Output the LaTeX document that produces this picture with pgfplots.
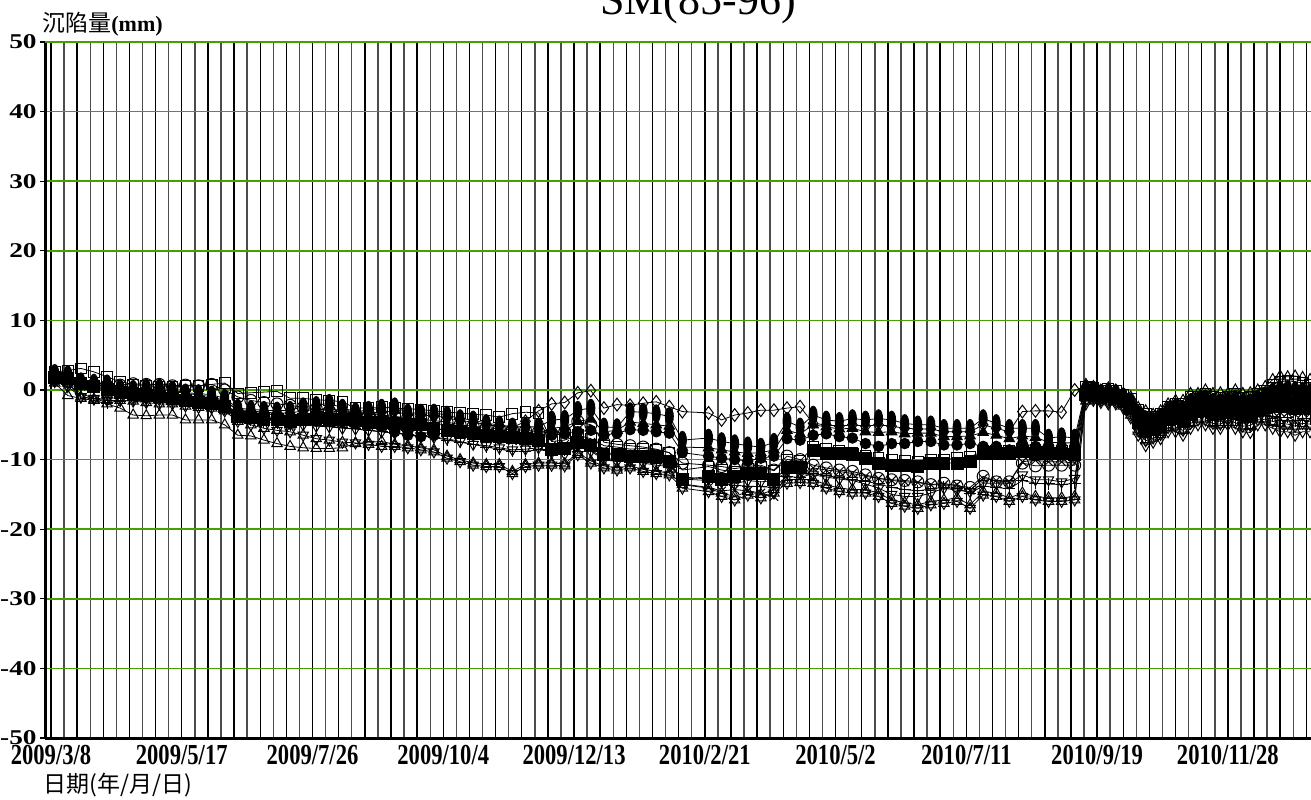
\documentclass[border=0pt]{standalone}
\usepackage{fontspec}
\setmainfont{Liberation Serif}
\newfontfamily\cjk{Noto Sans CJK TC}
\newfontfamily\ytf{Liberation Serif}[FakeStretch=1.3]
\newfontfamily\xtf{Liberation Serif}[FakeStretch=0.78]
\usepackage{pgfplots}
\usepackage{pgfplotstable}
\pgfplotsset{compat=1.18}
\usetikzlibrary{calc}
\definecolor{gridgreen}{RGB}{70,160,0}
\definecolor{topgreen}{RGB}{30,90,0}

\pgfplotstableread{
d ea fc fs os oc ut dt di cr pl hx ft
2 2.4 1.5 1.8 2.6 1.5 1.0 1.2 2.0 1.6 1.3 1.8 2.0
9 2.2 1.5 1.6 2.8 1.2 -0.8 0.5 1.8 1.3 0.8 1.0 1.9
16 1.2 0.8 1.0 3.1 1.0 -1.2 -1.0 1.0 0.5 -0.5 -1.0 1.4
23 1.0 0.5 0.5 2.6 0.8 -1.5 -1.2 0.7 0.2 -1.2 -1.3 1.2
30 0.9 0.3 0.0 1.9 0.6 -2.0 -1.3 0.5 -0.2 -1.8 -1.5 0.8
37 0.2 -0.3 -0.3 1.2 0.7 -2.6 -1.0 0.0 -0.5 -1.6 -1.5 0.4
44 0.1 -0.5 -0.6 0.8 0.9 -3.6 -1.2 -0.2 -0.8 -1.5 -1.6 0.2
51 0.3 -0.5 -0.8 0.6 0.8 -3.7 -1.3 -0.2 -1.0 -1.6 -1.8 0.1
58 0.3 -0.6 -1.0 0.5 0.8 -3.6 -1.4 -0.3 -1.1 -1.7 -2.0 0.0
65 0.0 -0.8 -1.2 0.4 0.6 -3.6 -1.5 -0.5 -1.3 -1.8 -2.0 -0.2
72 -0.4 -1.0 -1.5 0.6 0.7 -4.3 -1.6 -0.8 -1.4 -2.0 -2.3 -0.5
79 -0.5 -1.2 -1.8 0.6 0.6 -4.3 -1.8 -1.0 -1.6 -2.2 -2.5 -0.7
86 -0.7 -1.5 -2.0 0.8 0.8 -4.3 -2.0 -1.2 -1.8 -2.4 -2.6 -1.0
93 -1.2 -2.0 -2.4 1.0 0.0 -5.0 -2.5 -1.6 -2.2 -2.8 -3.0 -1.5
100 -2.6 -3.5 -3.8 -0.5 -1.0 -6.5 -3.8 -2.8 -3.2 -4.0 -4.5 -3.0
107 -2.8 -3.8 -4.0 -0.4 -1.5 -6.6 -4.0 -3.0 -3.5 -4.3 -5.0 -3.2
114 -2.9 -4.0 -4.2 -0.3 -1.8 -7.2 -4.2 -3.2 -3.8 -4.6 -5.5 -3.4
121 -3.0 -4.2 -4.3 -0.2 -2.0 -7.7 -4.5 -3.3 -4.0 -4.8 -5.8 -3.6
128 -2.9 -4.3 -4.5 -1.2 -2.2 -8.1 -4.8 -3.3 -4.0 -5.0 -6.0 -3.6
135 -2.4 -4.4 -4.2 -1.2 -2.5 -8.3 -5.0 -3.0 -3.8 -5.0 -6.5 -3.4
142 -2.2 -4.5 -4.0 -1.4 -2.7 -8.4 -5.2 -2.8 -3.8 -5.0 -7.0 -3.3
149 -1.9 -4.5 -4.2 -1.5 -3.0 -8.4 -5.3 -2.7 -3.9 -5.2 -7.2 -3.2
156 -2.6 -4.6 -4.3 -1.7 -3.2 -8.3 -5.5 -3.0 -4.0 -5.4 -7.5 -3.6
163 -3.1 -4.8 -4.4 -2.6 -3.4 -7.7 -5.6 -3.4 -4.2 -5.6 -7.6 -4.0
170 -2.9 -5.0 -4.6 -2.6 -3.5 -7.5 -5.8 -3.3 -4.3 -5.8 -7.8 -3.9
177 -2.6 -5.2 -4.6 -2.5 -3.6 -7.4 -6.0 -3.2 -4.5 -6.0 -8.1 -3.8
184 -2.4 -6.0 -4.8 -2.6 -3.8 -7.8 -6.2 -3.0 -4.8 -6.2 -8.1 -4.2
191 -3.3 -6.5 -4.9 -2.7 -4.0 -8.0 -6.4 -3.6 -5.0 -6.4 -8.3 -4.8
198 -3.3 -6.7 -5.0 -2.8 -4.2 -8.3 -6.6 -3.6 -5.2 -6.6 -8.6 -5.0
205 -3.3 -6.5 -5.5 -3.0 -4.4 -8.6 -6.8 -3.7 -5.5 -6.8 -8.9 -5.0
212 -3.6 -6.0 -5.8 -3.2 -4.6 -9.5 -7.0 -4.0 -5.8 -7.2 -9.8 -5.0
219 -4.1 -6.2 -6.0 -3.3 -5.0 -10.0 -7.4 -4.4 -6.0 -7.5 -10.3 -5.2
226 -4.3 -6.5 -6.2 -3.5 -5.2 -10.5 -7.8 -4.6 -6.4 -7.8 -10.8 -5.5
233 -4.8 -6.8 -6.5 -3.6 -5.4 -10.7 -8.0 -5.0 -6.8 -8.2 -11.0 -5.8
240 -5.0 -7.0 -6.7 -3.9 -5.6 -10.7 -8.3 -5.2 -7.0 -8.5 -11.0 -6.0
247 -5.3 -7.0 -6.8 -3.4 -5.7 -11.7 -8.6 -5.4 -7.3 -8.8 -12.0 -6.2
254 -5.3 -7.2 -6.9 -3.2 -5.8 -10.7 -8.5 -4.5 -7.6 -8.8 -11.0 -6.3
261 -5.3 -7.0 -7.2 -3.3 -6.0 -10.5 -8.3 -3.0 -7.8 -8.6 -10.8 -6.2
268 -4.3 -6.5 -8.6 -7.4 -6.2 -10.5 -9.0 -2.0 -8.0 -8.8 -10.8 -5.5
275 -4.2 -6.3 -8.4 -7.2 -6.0 -10.6 -9.2 -1.8 -7.8 -8.6 -10.9 -5.3
282 -2.9 -6.0 -7.5 -6.5 -4.5 -9.0 -8.0 -0.4 -7.0 -8.2 -9.3 -4.5
289 -2.6 -5.8 -8.0 -7.0 -5.0 -10.2 -8.8 -0.1 -7.5 -8.6 -10.5 -4.2
296 -5.3 -6.5 -9.3 -8.0 -7.5 -10.9 -10.0 -2.6 -9.0 -9.8 -11.2 -6.0
303 -5.4 -6.2 -9.3 -8.2 -7.8 -11.2 -10.3 -2.1 -9.2 -10.0 -11.5 -5.8
310 -3.1 -5.7 -9.5 -8.5 -8.0 -10.9 -10.2 -2.2 -9.3 -10.0 -11.2 -4.6
317 -3.2 -5.8 -9.6 -8.4 -8.2 -11.4 -10.5 -1.9 -9.5 -10.2 -11.7 -4.8
324 -3.4 -6.0 -9.6 -8.6 -8.5 -11.7 -10.8 -1.7 -9.8 -10.5 -12.0 -5.0
331 -3.8 -6.2 -10.3 -9.0 -9.0 -11.9 -11.0 -2.4 -10.2 -10.8 -12.2 -5.2
338 -7.2 -9.0 -12.9 -11.5 -10.5 -13.6 -12.5 -3.1 -13.5 -12.8 -14.1 -8.2
352 -6.9 -9.5 -12.4 -11.0 -10.8 -14.1 -12.8 -3.3 -14.0 -13.0 -14.6 -8.3
359 -7.4 -9.8 -12.9 -11.5 -11.0 -14.8 -13.2 -4.3 -14.5 -13.4 -15.3 -8.6
366 -7.7 -10.0 -12.4 -11.8 -11.3 -15.3 -13.5 -3.6 -14.3 -13.7 -15.8 -8.9
373 -8.0 -10.2 -12.0 -11.3 -11.0 -14.6 -13.0 -3.3 -14.5 -13.8 -15.1 -9.1
380 -8.2 -9.8 -12.0 -11.0 -10.8 -15.0 -13.2 -2.9 -14.8 -13.9 -15.5 -9.0
387 -7.5 -9.5 -12.9 -11.6 -11.5 -14.3 -13.0 -2.9 -15.3 -14.0 -14.8 -8.6
394 -4.5 -7.0 -11.2 -10.0 -9.5 -12.9 -11.8 -2.6 -12.0 -12.4 -13.4 -5.8
401 -5.3 -7.2 -11.2 -10.2 -10.0 -12.8 -12.0 -2.4 -12.0 -12.6 -13.3 -6.3
408 -3.6 -6.5 -8.7 -8.2 -10.8 -12.9 -12.2 -4.8 -11.2 -12.0 -13.4 -5.0
415 -4.3 -6.3 -9.1 -8.5 -11.2 -13.6 -12.5 -5.0 -11.5 -12.3 -14.1 -5.3
422 -4.5 -6.7 -9.1 -8.8 -11.5 -14.1 -12.8 -5.2 -11.7 -12.6 -14.6 -5.6
429 -4.1 -6.9 -9.3 -9.0 -11.7 -14.3 -13.0 -5.0 -12.0 -12.9 -14.8 -5.5
436 -4.3 -7.7 -9.8 -9.5 -12.2 -14.3 -13.5 -5.2 -12.4 -13.1 -14.8 -6.0
443 -4.1 -8.1 -10.5 -9.8 -12.7 -14.8 -14.1 -5.0 -12.7 -13.5 -15.3 -6.1
450 -4.3 -7.7 -10.8 -10.0 -12.9 -15.8 -15.0 -5.2 -13.0 -14.0 -16.3 -6.0
457 -4.8 -7.7 -10.8 -10.2 -13.0 -16.2 -15.3 -5.5 -13.2 -14.3 -16.7 -6.3
464 -5.0 -7.4 -11.0 -10.3 -13.2 -16.5 -15.3 -5.6 -13.3 -14.5 -17.0 -6.2
471 -5.0 -7.4 -10.5 -10.0 -13.6 -16.0 -14.8 -5.6 -13.6 -14.2 -16.5 -6.2
478 -5.5 -7.9 -10.5 -10.0 -13.4 -15.8 -14.1 -6.0 -13.6 -14.0 -16.3 -6.7
485 -5.5 -7.9 -10.5 -9.8 -13.8 -15.5 -14.4 -6.0 -13.6 -14.2 -16.0 -6.7
492 -5.5 -7.7 -10.3 -9.6 -14.0 -16.5 -14.6 -6.0 -14.4 -14.8 -17.0 -6.6
499 -4.1 -8.1 -9.1 -8.8 -12.4 -14.6 -13.4 -5.0 -12.7 -13.8 -15.1 -6.1
506 -4.8 -8.1 -9.1 -8.7 -13.2 -14.8 -13.4 -5.5 -13.0 -14.0 -15.3 -6.5
513 -5.5 -8.6 -9.1 -8.8 -13.2 -15.5 -13.4 -6.0 -13.2 -14.2 -16.0 -7.0
520 -5.5 -7.7 -8.9 -8.5 -10.5 -14.8 -12.2 -3.1 -10.3 -13.0 -15.3 -6.6
527 -5.5 -8.1 -9.1 -8.6 -10.9 -15.3 -12.9 -3.0 -10.1 -13.4 -15.8 -6.8
534 -6.9 -8.1 -9.1 -8.8 -10.8 -15.5 -12.9 -3.0 -10.3 -13.5 -16.0 -7.5
541 -6.7 -8.6 -9.1 -8.7 -10.8 -15.5 -13.2 -3.2 -10.3 -13.6 -16.0 -7.6
548 -6.9 -8.4 -9.3 -8.9 -10.8 -15.3 -12.7 0.0 -10.5 -13.4 -15.8 -7.6
554 0.1 -0.5 -0.7 0.5 -0.6 0.8 -2.0 0.2 -1.0 -1.3 -1.6 -0.2
558 0.0 -0.4 -0.6 0.3 -0.5 0.5 -1.5 0.1 -0.8 -1.0 -1.2 -0.2
562 -0.5 -0.8 -1.0 -0.2 -0.9 0.0 -1.8 -0.4 -1.2 -1.4 -1.5 -0.6
566 -0.3 -0.7 -1.0 0.1 -0.9 0.3 -2.0 -0.2 -1.2 -1.4 -1.7 -0.5
570 -0.5 -0.9 -1.1 -0.2 -1.0 0.0 -2.0 -0.4 -1.3 -1.5 -1.7 -0.7
574 -1.0 -1.4 -1.7 -0.7 -1.6 -0.5 -2.6 -0.9 -1.9 -2.1 -2.3 -1.2
578 -1.8 -2.4 -2.7 -1.3 -2.5 -1.0 -4.0 -1.6 -3.0 -3.3 -3.6 -2.1
582 -3.5 -4.3 -4.7 -2.9 -4.5 -2.5 -6.5 -3.3 -5.1 -5.5 -5.9 -3.9
586 -4.3 -5.3 -5.8 -3.5 -5.5 -3.0 -8.0 -4.0 -6.3 -6.8 -7.3 -4.8
590 -4.5 -5.3 -5.7 -3.9 -5.5 -3.5 -7.5 -4.3 -6.1 -6.5 -6.9 -4.9
594 -4.0 -4.8 -5.2 -3.4 -5.0 -3.0 -7.0 -3.8 -5.6 -6.0 -6.4 -4.4
598 -3.0 -3.8 -4.2 -2.4 -4.0 -2.0 -6.0 -2.8 -4.6 -5.0 -5.4 -3.4
602 -2.6 -3.5 -4.0 -2.0 -3.8 -1.5 -6.0 -2.4 -4.4 -4.9 -5.3 -3.1
606 -2.8 -3.8 -4.3 -2.0 -4.0 -1.5 -6.5 -2.5 -4.8 -5.3 -5.8 -3.3
610 -1.8 -2.8 -3.3 -1.0 -3.0 -0.5 -5.5 -1.5 -3.8 -4.3 -4.8 -2.3
614 -1.6 -2.5 -3.0 -1.0 -2.8 -0.5 -5.0 -1.4 -3.4 -3.9 -4.3 -2.1
618 -1.3 -2.3 -2.8 -0.5 -2.5 0.0 -5.0 -1.0 -3.3 -3.8 -4.3 -1.8
622 -1.8 -2.8 -3.3 -1.0 -3.0 -0.5 -5.5 -1.5 -3.8 -4.3 -4.8 -2.3
626 -1.9 -2.9 -3.2 -1.1 -3.1 -0.4 -5.5 -1.4 -3.9 -4.2 -4.9 -2.2
630 -1.6 -2.5 -3.0 -1.0 -2.8 -0.5 -5.0 -1.4 -3.4 -3.9 -4.3 -2.1
634 -1.4 -2.5 -3.0 -0.6 -2.8 0.0 -5.5 -1.1 -3.6 -4.1 -4.7 -1.9
638 -1.9 -3.0 -3.5 -1.1 -3.3 -0.5 -6.0 -1.6 -4.1 -4.6 -5.2 -2.4
642 -1.8 -2.9 -3.6 -1.0 -3.2 -0.4 -6.1 -1.7 -4.0 -4.7 -5.1 -2.5
646 -1.3 -2.3 -2.8 -0.5 -2.5 0.0 -5.0 -1.0 -3.3 -3.8 -4.3 -1.8
650 -0.9 -2.0 -2.5 -0.1 -2.3 0.5 -5.0 -0.6 -3.1 -3.6 -4.2 -1.4
654 -0.3 -1.7 -2.4 0.8 -2.0 1.5 -5.5 0.1 -3.1 -3.8 -4.5 -1.0
658 0.0 -1.6 -2.4 1.2 -2.0 2.0 -6.0 0.4 -3.2 -4.0 -4.8 -0.8
662 0.1 -1.5 -2.3 1.3 -2.1 1.9 -6.0 0.3 -3.3 -3.9 -4.9 -0.9
666 -0.1 -1.8 -2.7 1.2 -2.3 2.0 -6.5 0.3 -3.5 -4.4 -5.2 -1.0
670 -0.2 -1.7 -2.5 1.0 -2.1 1.8 -6.0 0.2 -3.3 -4.1 -4.8 -0.9
674 -0.4 -1.9 -2.6 0.8 -2.3 1.5 -6.0 0.0 -3.4 -4.1 -4.9 -1.1
}\data

\begin{document}
\begin{tikzpicture}
\begin{axis}[
  scale only axis, width=633pt, height=348pt,
  xmin=-3.2, xmax=674.5, ymin=-50, ymax=50,
  axis x line*=bottom, axis y line*=left,
  axis line style={line width=1.5pt, black},
  xtick={0,14,...,672},
  xticklabels={},
  minor xtick={7,21,...,665},
  xmajorgrids=true, xminorgrids=true,
  major x grid style={black, line width=0.7pt},
  minor x grid style={black!70, line width=0.7pt},
  xtick style={draw=none},
  minor tick length=0pt,
  extra x ticks={0,70,...,630},
  extra x tick labels={2009/3/8,2009/5/17,2009/7/26,2009/10/4,2009/12/13,2010/2/21,2010/5/2,2010/7/11,2010/9/19,2010/11/28},
  extra x tick style={xmajorgrids=false, tick style={draw=none}},
  ytick={-50,-40,...,50},
  yticklabels={-50,-40,-30,-20,-10,0,10,20,30,40,50},
  ymajorgrids=true,
  y grid style={gridgreen, line width=0.75pt},
  extra y ticks={50}, extra y tick labels={},
  extra y tick style={grid style={topgreen, line width=1.5pt}},
  tick align=outside, major tick length=2.5pt,
  ytick style={black, line width=0.6pt},
  yticklabel style={font=\ytf\bfseries\fontsize{10.5}{12}\selectfont, inner sep=0pt, xshift=-1.5pt},
  xticklabel style={font=\xtf\bfseries\fontsize{14.5}{16}\selectfont, inner sep=0pt, anchor=base, yshift=-10.5pt},
  clip mode=individual,
]
\path (rel axis cs:0,0) coordinate (bl);
\path (rel axis cs:1,1) coordinate (tr);
\addplot[black, line width=0.4pt, mark=triangle, mark size=3pt, mark options={line width=0.5pt}] table[x=d,y=hx] {\data};
\addplot[black, only marks, mark=triangle, mark size=3pt, mark options={rotate=180, line width=0.5pt}] table[x=d,y=hx] {\data};
\addplot[black, line width=0.4pt, mark=triangle, mark size=3pt, mark options={rotate=180, line width=0.5pt}] table[x=d,y=dt] {\data};
\addplot[black, line width=0.4pt, mark=+, mark size=3pt, mark options={line width=0.5pt}] table[x=d,y=pl] {\data};
\addplot[black, line width=0.4pt, mark=x, mark size=3pt, mark options={line width=0.5pt}] table[x=d,y=cr] {\data};
\addplot[black, line width=0.4pt, mark=o, mark size=3pt, mark options={line width=0.5pt}] table[x=d,y=oc] {\data};
\addplot[black, line width=0.4pt, mark=triangle, mark size=3pt, mark options={line width=0.5pt}] table[x=d,y=ut] {\data};
\addplot[black, line width=0.4pt, mark=square, mark size=2.7pt, mark options={line width=0.5pt}] table[x=d,y=os] {\data};
\addplot[black, line width=0.4pt, mark=diamond, mark size=3.2pt, mark options={line width=0.5pt}] table[x=d,y=di] {\data};
\addplot[black, line width=0.4pt, mark=square*, mark size=3pt, mark options={line width=0.5pt}] table[x=d,y=fs] {\data};
\addplot[black, line width=0.4pt, mark=*, mark size=2.6pt, mark options={line width=0.5pt}] table[x=d,y=fc] {\data};
\addplot[black, line width=0.4pt, mark=triangle*, mark size=3pt, mark options={line width=0.5pt}] table[x=d,y=ft] {\data};
\addplot[black, line width=0.4pt, mark=*, mark size=2pt, mark options={yscale=2.2, line width=0.5pt}] table[x=d,y=ea] {\data};
\end{axis}
\node[anchor=base, inner sep=0pt, font=\fontsize{22}{26}\selectfont] at ($(bl|-tr)+(326.5pt,13.5pt)$) {SM(85-96)};
\node[anchor=base west, inner sep=0pt] at ($(bl|-tr)+(-1.5pt,5pt)$) {{\cjk\fontsize{11.5}{13}\selectfont 沉陷量}{\bfseries\fontsize{11}{13}\selectfont (mm)}};
\node[anchor=base west, inner sep=0pt] at ($(bl)+(-1pt,-27pt)$) {\cjk\fontsize{11.5}{13}\selectfont 日期(年/月/日)};
\pgfresetboundingbox
\path[use as bounding box] ($(bl)+(-22.5pt,-30.5pt)$) rectangle ($(tr)+(0,21pt)$);
\end{tikzpicture}
\end{document}
